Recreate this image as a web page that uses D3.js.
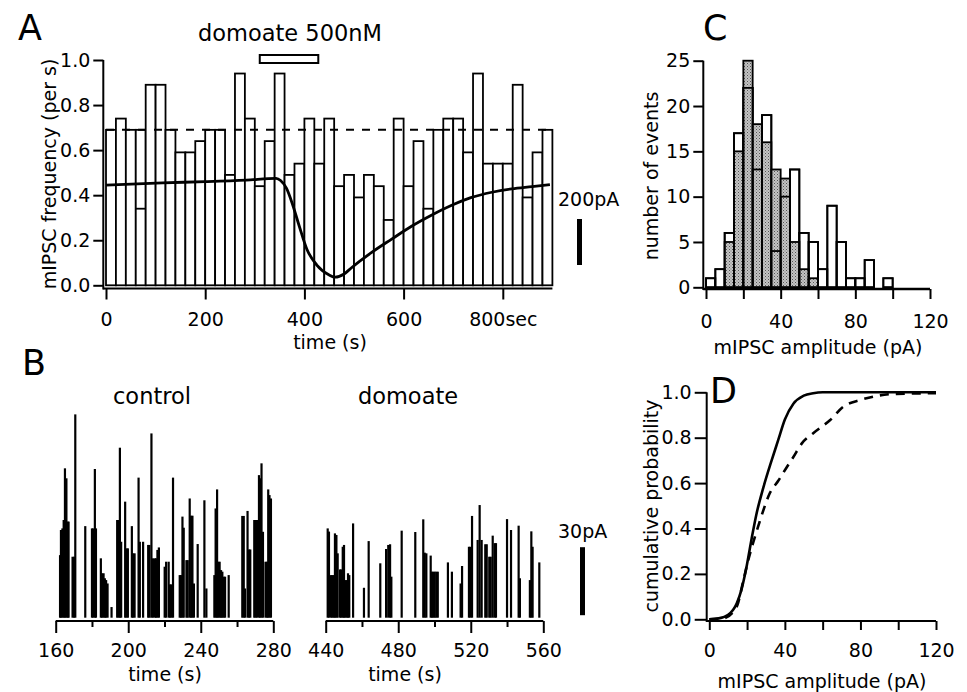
<!DOCTYPE html>
<html>
<head>
<meta charset="utf-8">
<script src="https://cdn.jsdelivr.net/npm/d3@7"></script>
<style>
body { margin: 0; background: #fff; }
svg { display: block; font-family: "DejaVu Sans", sans-serif; }
.axis line { stroke: #000; stroke-width: 2; }
.axis text { font-size: 19px; fill: #000; font-family: "DejaVu Sans", sans-serif; }
.lbl { font-size: 19px; fill: #000; }
.ttl { font-size: 22.5px; fill: #000; }
.letter { font-size: 35px; fill: #000; }
</style>
</head>
<body>
<svg id="fig" width="967" height="692"></svg>
<script>
// ---- A: mIPSC frequency in 20 s bins, holding current trace
const freqBinSize = 20;
const freqValues = [0.69,0.74,0.69,0.69,0.89,0.89,0.69,0.59,0.59,0.64,
  0.69,0.69,0.49,0.94,0.74,0.44,0.64,0.94,0.49,0.54,
  0.74,0.54,0.74,0.44,0.49,0.39,0.49,0.44,0.29,0.74,
  0.44,0.64,0.34,0.69,0.74,0.74,0.59,0.94,0.54,0.54,
  0.54,0.89,0.39,0.59,0.69];
const freqInner = [[3, 0.34]];
const freqMean = 0.69;
const drugOn = 310, drugOff = 428;
const holdTime = [0,114,200,283,343,352,364,376,390,405,425,450,462,480,495,535,576,616,657,697,737,778,818,859,895];
const holdLevel = [0.445,0.455,0.46,0.467,0.475,0.465,0.43,0.36,0.26,0.16,0.09,0.046,0.036,0.05,0.078,0.145,0.205,0.262,0.312,0.355,0.39,0.413,0.428,0.438,0.447];
const freqTicks = [0, 200, 400, 600, 800];

// ---- B: event amplitudes (pA) vs time (s)
const ctrlTimes = [162.4,162.9,163.7,164.4,165.1,165.9,166.6,167.1,169.3,170.1,170.8,176.3,180.0,180.7,181.6,182.2,
  184.9,185.6,186.4,187.1,187.8,188.6,190.8,193.9,194.7,195.4,196.1,198.3,199.0,199.8,202.0,202.7,203.5,205.7,206.4,
  208.2,211.0,211.7,212.8,213.6,214.7,215.4,216.1,216.9,220.1,220.9,222.3,223.1,223.8,224.7,228.4,229.1,229.9,230.6,
  232.1,232.8,233.9,234.7,235.4,236.2,238.3,242.0,243.1,247.5,248.2,249.0,249.7,250.4,251.2,251.9,252.6,253.4,255.4,
  262.9,263.7,264.4,265.8,266.6,267.3,269.5,270.2,271.0,272.1,272.8,273.5,274.3,275.7,276.5,277.2,277.9,278.7];
const ctrlAmps = [27.6,38.7,39.4,43.1,65.9,61.5,42.4,42.4,26.9,26.9,89.7,40.4,39.4,39.4,65.6,39.4,
  26.2,19.6,19.6,17.4,16.6,15.1,4.7,43.1,43.1,75.0,33.5,51.2,30.6,30.6,40.4,28.4,28.4,61.8,33.5,
  33.5,32.1,32.1,81.3,26.2,26.2,26.2,29.9,31.0,22.5,24.7,24.7,14.7,14.7,61.8,18.8,18.8,44.6,39.7,
  25.4,25.4,52.6,45.0,45.0,15.1,32.5,51.8,12.9,18.8,48.2,56.6,24.7,24.7,21.0,20.3,18.1,18.1,18.8,
  44.9,44.9,12.9,47.1,30.1,30.1,43.1,43.1,43.1,62.9,61.5,68.1,37.9,24.7,24.7,56.6,54.1,52.6];
const domTimes = [441.1,441.8,442.9,443.7,444.4,445.1,445.9,446.6,447.9,448.6,449.4,450.1,450.8,451.6,452.3,453.0,
  455.1,461.1,463.7,470.1,473.3,474.5,475.5,476.2,481.9,489.4,493.8,494.6,495.5,497.9,498.6,499.4,500.1,501.0,501.8,
  507.4,509.6,514.4,515.2,519.0,519.8,520.7,523.8,524.9,526.0,528.0,528.8,530.2,531.0,532.1,533.2,533.9,540.0,542.2,
  546.4,547.1,552.6,553.4,554.1,557.8];
const domAmps = [39.4,38.0,18.8,18.8,18.8,37.2,36.5,28.4,21.3,21.3,31.3,32.1,16.6,16.6,19.6,18.8,
  41.6,13.2,33.8,24.0,30.3,32.1,32.4,18.1,38.4,37.8,43.4,28.7,28.4,27.4,20.3,20.3,20.3,20.3,20.3,
  24.4,20.3,15.1,22.8,31.3,31.3,44.9,34.3,49.7,34.3,32.4,32.4,26.9,26.9,36.2,32.9,32.9,43.5,38.7,
  40.6,17.4,16.6,38.1,31.3,24.4];
const ctrlTicks = [160,180,200,220,240,260,280];
const domTicks = [440,460,480,500,520,540,560];

// ---- C: amplitude histogram, 5 pA bins
const ampBinSize = 5;
const ampBinStarts = [0,5,10,15,20,25,30,35,40,45,50,55,60,65,70,75,80,85,90,95];
const ctrlCounts = [0,0,5,15,25,18,16,13,12,5,2,1,0,0,0,0,0,0,0,0];
const domCounts  = [1,2,6,17,22,13,19,4,10,13,6,5,2,9,5,1,1,3,0,1];
const countTicks = [0,5,10,15,20,25];
const ampTicks = [0,20,40,60,80,100,120];

// ---- D: cumulative amplitude distributions
const cumCtrlAmp  = [0,5,10,14.5,17,19.8,22.4,25,28.6,33,36.5,40,44.5,50,55,60,120];
const cumCtrlProb = [0,0.004,0.02,0.07,0.13,0.235,0.355,0.465,0.58,0.70,0.79,0.88,0.95,0.985,0.996,1,1];
const cumDomAmp  = [0,7.4,14.5,18,20.6,23.3,25.9,28.6,32,36.5,41,44.5,49,55,64,71,80,88.6,99,120];
const cumDomProb = [0,0.004,0.056,0.17,0.26,0.34,0.41,0.48,0.555,0.61,0.67,0.715,0.775,0.82,0.878,0.937,0.966,0.984,0.993,0.996];
const probTicks = [0,0.2,0.4,0.6,0.8,1.0];

const svg = d3.select('#fig');

function text(g, x, y, s, cls, anchor) {
    return g.append('text').attr('x', x).attr('y', y).attr('class', cls)
        .attr('text-anchor', anchor || 'start').text(s);
}
function vtext(g, x, y, s) {
    return g.append('text').attr('class', 'lbl').attr('text-anchor', 'middle')
        .attr('transform', `translate(${x},${y}) rotate(-90)`).text(s);
}
function noDomain(g) { g.select('.domain').remove(); }

// ================= Panel A =================
const xA = d3.scaleLinear().domain([0, 900]).range([106, 552.4]);
const yA = d3.scaleLinear().domain([0, 1]).range([285.3, 60]);
const gA = svg.append('g');

gA.selectAll('rect.bin').data(freqValues).enter().append('rect')
    .attr('x', (d, i) => xA(i * freqBinSize))
    .attr('width', (d, i) => xA((i + 1) * freqBinSize) - xA(i * freqBinSize))
    .attr('y', d => yA(d))
    .attr('height', d => yA(0) - yA(d))
    .attr('fill', '#fff').attr('stroke', '#000').attr('stroke-width', 1.8);

gA.selectAll('line.inner').data(freqInner).enter().append('line')
    .attr('x1', d => xA(d[0] * freqBinSize)).attr('x2', d => xA((d[0] + 1) * freqBinSize))
    .attr('y1', d => yA(d[1])).attr('y2', d => yA(d[1]))
    .attr('stroke', '#000').attr('stroke-width', 1.8);

gA.append('line')
    .attr('x1', xA(0)).attr('x2', xA(900)).attr('y1', yA(freqMean)).attr('y2', yA(freqMean))
    .attr('stroke', '#000').attr('stroke-width', 2).attr('stroke-dasharray', '8,8');

gA.append('path')
    .datum(holdTime.map((t, i) => [t, holdLevel[i]]))
    .attr('d', d3.line().x(d => xA(d[0])).y(d => yA(d[1])).curve(d3.curveMonotoneX))
    .attr('fill', 'none').attr('stroke', '#000').attr('stroke-width', 2.8);

gA.append('rect')
    .attr('x', xA(drugOn)).attr('width', xA(drugOff) - xA(drugOn))
    .attr('y', 55).attr('height', 8)
    .attr('fill', '#fff').attr('stroke', '#000').attr('stroke-width', 2);

gA.append('g').attr('class', 'axis').attr('transform', 'translate(0,288.5)')
    .call(d3.axisBottom(xA).tickValues(freqTicks).tickFormat(d => d === 800 ? '800sec' : d)
        .tickSize(11).tickSizeOuter(0).tickPadding(13))
    .call(noDomain);
gA.append('line').attr('x1', 103.3).attr('x2', xA(900)).attr('y1', 288.5).attr('y2', 288.5)
    .attr('stroke', '#000').attr('stroke-width', 2.2);

gA.append('g').attr('class', 'axis').attr('transform', 'translate(103.3,0)')
    .call(d3.axisLeft(yA).tickValues([0, 0.2, 0.4, 0.6, 0.8, 1]).tickFormat(d3.format('.1f'))
        .tickSize(10).tickSizeOuter(0).tickPadding(3))
    .call(noDomain);
gA.append('line').attr('x1', 103.3).attr('x2', 103.3).attr('y1', yA(1)).attr('y2', 289.5)
    .attr('stroke', '#000').attr('stroke-width', 2);

text(gA, 18, 40, 'A', 'letter');
text(gA, 290, 41, 'domoate 500nM', 'ttl', 'middle');
text(gA, 330, 349, 'time (s)', 'lbl', 'middle');
vtext(gA, 56, 174, 'mIPSC frequency (per s)');
text(gA, 558, 206, '200pA', 'lbl');
gA.append('rect').attr('x', 577).attr('y', 219).attr('width', 5).attr('height', 46).attr('fill', '#000');

// ================= Panel B =================
const xCtrl = d3.scaleLinear().domain([160, 280]).range([55.7, 273.3]);
const xDom = d3.scaleLinear().domain([440, 560]).range([325.7, 543.3]);
const yAmp = d3.scaleLinear().domain([0, 30]).range([617.7, 549.7]);
const gB = svg.append('g');

function events(times, amps, x) {
    gB.append('g').selectAll('line').data(times).enter().append('line')
        .attr('x1', d => x(d)).attr('x2', d => x(d))
        .attr('y1', yAmp(0)).attr('y2', (d, i) => yAmp(amps[i]))
        .attr('stroke', '#000').attr('stroke-width', 2.2);
}
events(ctrlTimes, ctrlAmps, xCtrl);
events(domTimes, domAmps, xDom);

function traceAxis(x, ticks) {
    const g = gB.append('g').attr('class', 'axis').attr('transform', 'translate(0,621)')
        .call(d3.axisBottom(x).tickValues(ticks).tickFormat((d, i) => i % 2 === 0 ? d : '')
            .tickSize(12).tickSizeOuter(0).tickPadding(11))
        .call(noDomain);
    g.selectAll('.tick line').attr('y2', (d, i) => i % 2 === 0 ? 12 : 6);
    gB.append('line').attr('x1', x.range()[0]).attr('x2', x.range()[1])
        .attr('y1', 621).attr('y2', 621).attr('stroke', '#000').attr('stroke-width', 2.2);
}
traceAxis(xCtrl, ctrlTicks);
traceAxis(xDom, domTicks);

text(gB, 22, 375, 'B', 'letter');
text(gB, 152, 404, 'control', 'ttl', 'middle');
text(gB, 408, 404, 'domoate', 'ttl', 'middle');
text(gB, 165, 681, 'time (s)', 'lbl', 'middle');
text(gB, 405, 681, 'time (s)', 'lbl', 'middle');
text(gB, 558, 538, '30pA', 'lbl');
gB.append('rect').attr('x', 580).attr('y', yAmp(30) - 2.5).attr('width', 5)
    .attr('height', yAmp(0) - yAmp(30)).attr('fill', '#000');

// ================= Panel C =================
const xC = d3.scaleLinear().domain([0, 120]).range([706, 930]);
const yC = d3.scaleLinear().domain([0, 25]).range([287.3, 60.7]);
const gC = svg.append('g');

const defs = svg.append('defs');
const pat = defs.append('pattern').attr('id', 'stipple').attr('patternUnits', 'userSpaceOnUse')
    .attr('width', 3).attr('height', 3);
pat.append('rect').attr('width', 3).attr('height', 3).attr('fill', '#c4c4c4');
pat.append('rect').attr('width', 1).attr('height', 1).attr('fill', '#555');
pat.append('rect').attr('x', 1.5).attr('y', 1.5).attr('width', 1).attr('height', 1).attr('fill', '#777');

function hist(counts, fill) {
    const bins = counts.map((c, i) => ({ start: ampBinStarts[i], count: c })).filter(d => d.count > 0);
    gC.append('g').selectAll('rect').data(bins).enter().append('rect')
        .attr('x', d => xC(d.start))
        .attr('width', d => xC(d.start + ampBinSize) - xC(d.start))
        .attr('y', d => yC(d.count)).attr('height', d => yC(0) - yC(d.count))
        .attr('fill', fill).attr('stroke', '#000').attr('stroke-width', 1.8);
}
hist(domCounts, '#fff');
hist(ctrlCounts, 'url(#stipple)');
hist(domCounts, 'none');

gC.append('g').attr('class', 'axis').attr('transform', 'translate(0,289)')
    .call(d3.axisBottom(xC).tickValues(ampTicks).tickFormat(d => d % 40 === 0 ? d : '')
        .tickSize(10).tickSizeOuter(0).tickPadding(16))
    .call(noDomain);
gC.append('line').attr('x1', 703.3).attr('x2', xC(120)).attr('y1', 289).attr('y2', 289)
    .attr('stroke', '#000').attr('stroke-width', 2.5);
gC.append('g').attr('class', 'axis').attr('transform', 'translate(703.3,0)')
    .call(d3.axisLeft(yC).tickValues(countTicks).tickSize(10).tickSizeOuter(0).tickPadding(3))
    .call(noDomain);
gC.append('line').attr('x1', 703.3).attr('x2', 703.3).attr('y1', yC(25)).attr('y2', 290)
    .attr('stroke', '#000').attr('stroke-width', 2);

text(gC, 703, 40, 'C', 'letter');
text(gC, 818, 354, 'mIPSC amplitude (pA)', 'lbl', 'middle');
vtext(gC, 658, 176, 'number of events');

// ================= Panel D =================
const xD = d3.scaleLinear().domain([0, 120]).range([709.3, 936]);
const yD = d3.scaleLinear().domain([0, 1]).range([619.3, 392.3]);
const gD = svg.append('g');
const lineD = d3.line().x(d => xD(d[0])).y(d => yD(d[1])).curve(d3.curveMonotoneX);

gD.append('path').datum(cumCtrlAmp.map((a, i) => [a, cumCtrlProb[i]]))
    .attr('d', lineD).attr('fill', 'none').attr('stroke', '#000').attr('stroke-width', 2.6);
gD.append('path').datum(cumDomAmp.map((a, i) => [a, cumDomProb[i]]))
    .attr('d', lineD).attr('fill', 'none').attr('stroke', '#000').attr('stroke-width', 2.6)
    .attr('stroke-dasharray', '9,7');

gD.append('g').attr('class', 'axis').attr('transform', 'translate(0,621)')
    .call(d3.axisBottom(xD).tickValues(ampTicks).tickFormat(d => d % 40 === 0 ? d : '')
        .tickSize(9).tickSizeOuter(0).tickPadding(14))
    .call(noDomain);
gD.append('line').attr('x1', 706.7).attr('x2', xD(120)).attr('y1', 621).attr('y2', 621)
    .attr('stroke', '#000').attr('stroke-width', 2);
gD.append('g').attr('class', 'axis').attr('transform', 'translate(706.7,0)')
    .call(d3.axisLeft(yD).tickValues(probTicks).tickFormat(d3.format('.1f'))
        .tickSize(12).tickSizeOuter(0).tickPadding(3))
    .call(noDomain);
gD.append('line').attr('x1', 706.7).attr('x2', 706.7).attr('y1', yD(1)).attr('y2', 622)
    .attr('stroke', '#000').attr('stroke-width', 2);

text(gD, 710, 403, 'D', 'letter');
text(gD, 822, 688, 'mIPSC amplitude (pA)', 'lbl', 'middle');
vtext(gD, 658, 506, 'cumulative probability');
</script>
</body>
</html>
